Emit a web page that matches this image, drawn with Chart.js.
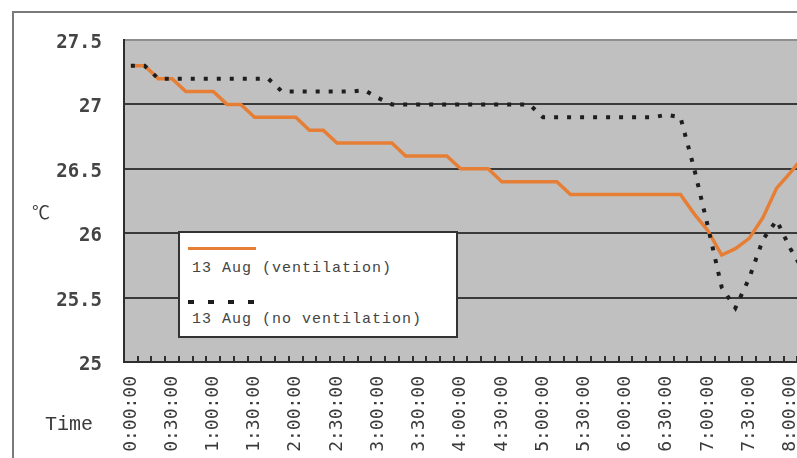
<!DOCTYPE html>
<html>
<head>
<meta charset="utf-8">
<script src="https://cdn.jsdelivr.net/npm/chart.js@4/dist/chart.umd.min.js"></script>
<style>
html,body{margin:0;padding:0;background:#fff;overflow:hidden;width:797px;height:458px;position:relative;}
#frame{position:absolute;left:12px;top:11px;width:900px;height:520px;border:2px solid #7a7a7a;box-sizing:border-box;}
#c{position:absolute;left:0;top:0;}
.lbl{position:absolute;color:#3a3a3a;white-space:nowrap;}
#unit{left:32px;top:200px;font-family:"Noto Sans CJK SC",sans-serif;font-size:18px;line-height:22px;}
#xt{left:45px;top:413px;font-family:"Liberation Mono",monospace;font-size:20px;line-height:24px;}
#legend{position:absolute;left:178px;top:231px;width:280px;height:107px;background:#fff;border:2px solid #333;box-sizing:border-box;font-family:"Liberation Mono",monospace;font-size:15px;letter-spacing:1px;color:#444;}
.samp{position:absolute;left:8px;width:68px;}
.ltxt{position:absolute;left:12px;line-height:18px;white-space:nowrap;}
</style>
</head>
<body>
<div id="frame"></div>
<canvas id="c" width="840" height="458"></canvas>
<div class="lbl" id="unit">℃</div>
<div class="lbl" id="xt">Time</div>
<div id="legend"></div>
<script>
const timeLabels = ["0:00:00","0:10:00","0:20:00","0:30:00","0:40:00","0:50:00",
  "1:00:00","1:10:00","1:20:00","1:30:00","1:40:00","1:50:00",
  "2:00:00","2:10:00","2:20:00","2:30:00","2:40:00","2:50:00",
  "3:00:00","3:10:00","3:20:00","3:30:00","3:40:00","3:50:00",
  "4:00:00","4:10:00","4:20:00","4:30:00","4:40:00","4:50:00",
  "5:00:00","5:10:00","5:20:00","5:30:00","5:40:00","5:50:00",
  "6:00:00","6:10:00","6:20:00","6:30:00","6:40:00","6:50:00",
  "7:00:00","7:10:00","7:20:00","7:30:00","7:40:00","7:50:00",
  "8:00:00","8:10:00"];

const ventilation = [27.3,27.3,27.2,27.2,27.1,27.1,27.1,27.0,27.0,26.9,
  26.9,26.9,26.9,26.8,26.8,26.7,26.7,26.7,26.7,26.7,
  26.6,26.6,26.6,26.6,26.5,26.5,26.5,26.4,26.4,26.4,
  26.4,26.4,26.3,26.3,26.3,26.3,26.3,26.3,26.3,26.3,
  26.3,26.15,26.02,25.83,25.88,25.96,26.12,26.35,26.47,26.6];

const noVentilation = [27.3,27.3,27.2,27.2,27.2,27.2,27.2,27.2,27.2,27.2,
  27.2,27.1,27.1,27.1,27.1,27.1,27.1,27.11,27.05,27.0,
  27.0,27.0,27.0,27.0,27.0,27.0,27.0,27.0,27.0,27.0,
  26.9,26.9,26.9,26.9,26.9,26.9,26.9,26.9,26.9,26.92,
  26.9,26.5,26.05,25.58,25.42,25.65,25.95,26.1,25.88,25.7];

const seriesNames = ["13 Aug (ventilation)", "13 Aug (no ventilation)"];
const yMin = 25, yMax = 27.5, yStep = 0.5;

const plotDeco = {
  id: 'plotDeco',
  beforeDraw(chart) {
    const {ctx, chartArea: a} = chart;
    ctx.save();
    ctx.fillStyle = '#c0c0c0';
    ctx.fillRect(a.left, a.top, a.right - a.left, a.bottom - a.top);
    ctx.restore();
  },
  afterDraw(chart) {
    const {ctx, chartArea: a} = chart;
    const xs = chart.scales.x;
    const n = xs.getLabels().length;
    ctx.save();
    ctx.strokeStyle = '#2e2e2e';
    ctx.lineWidth = 2;
    for (let k = 0; k <= n; k++) {
      const px = Math.round(xs.getPixelForValue(k - 0.5));
      ctx.beginPath();
      ctx.moveTo(px, a.bottom);
      ctx.lineTo(px, a.bottom - 6);
      ctx.stroke();
    }
    ctx.restore();
  }
};

const chart = new Chart(document.getElementById('c'), {
  type: 'line',
  data: {
    labels: timeLabels,
    datasets: [
      {
        label: seriesNames[0],
        data: ventilation,
        borderColor: '#e67f35',
        borderWidth: 3.5,
        pointRadius: 0,
        tension: 0,
        order: 1
      },
      {
        label: seriesNames[1],
        data: noVentilation,
        borderColor: '#1e1e1e',
        borderWidth: 4,
        borderDash: [4, 9],
        pointRadius: 0,
        tension: 0,
        order: 0
      }
    ]
  },
  options: {
    responsive: false,
    animation: false,
    devicePixelRatio: 1,
    layout: { padding: { top: 40, right: 28, left: 0, bottom: 0 } },
    plugins: { legend: { display: false }, tooltip: { enabled: false } },
    scales: {
      x: {
        offset: true,
        grid: { display: false, drawTicks: false },
        border: { display: true, color: '#2e2e2e', width: 2 },
        ticks: {
          autoSkip: false,
          minRotation: 90,
          maxRotation: 90,
          padding: 14,
          color: '#3a3a3a',
          font: { family: '"DejaVu Sans Mono", monospace', size: 18 },
          callback: function(v, i) { return i % 3 === 0 ? timeLabels[i] : ''; }
        },
        afterFit(s) { s.height = 96; }
      },
      y: {
        min: yMin,
        max: yMax,
        grid: {
          drawTicks: false,
          lineWidth: 2,
          color: (c) => (c.tick && c.tick.value === yMax) ? '#8e8e8e' : '#3a3a3a'
        },
        border: { display: true, color: '#2e2e2e', width: 2 },
        ticks: {
          stepSize: yStep,
          padding: 22,
          labelOffset: 3,
          color: '#444',
          font: { family: '"DejaVu Sans Mono", monospace', size: 19, weight: 'bold' },
          callback: (v) => String(Number(v.toFixed(1)))
        },
        afterFit(s) { s.width = 124; }
      }
    }
  },
  plugins: [plotDeco]
});

// HTML legend built from the chart's datasets
const leg = document.getElementById('legend');
const entries = [
  {top: 14, textTop: 27},
  {top: 67, textTop: 78}
];
chart.data.datasets.forEach((ds, i) => {
  const s = document.createElement('div');
  s.className = 'samp';
  s.style.top = entries[i].top + 'px';
  if (ds.borderDash) {
    s.style.height = '4px';
    s.style.width = '66px';
    s.style.background = 'repeating-linear-gradient(to right, ' + ds.borderColor + ' 0 6px, transparent 6px 20px)';
  } else {
    s.style.height = '3px';
    s.style.background = ds.borderColor;
  }
  leg.appendChild(s);
  const t = document.createElement('div');
  t.className = 'ltxt';
  t.style.top = entries[i].textTop + 'px';
  t.textContent = ds.label;
  leg.appendChild(t);
});
</script>
</body>
</html>
